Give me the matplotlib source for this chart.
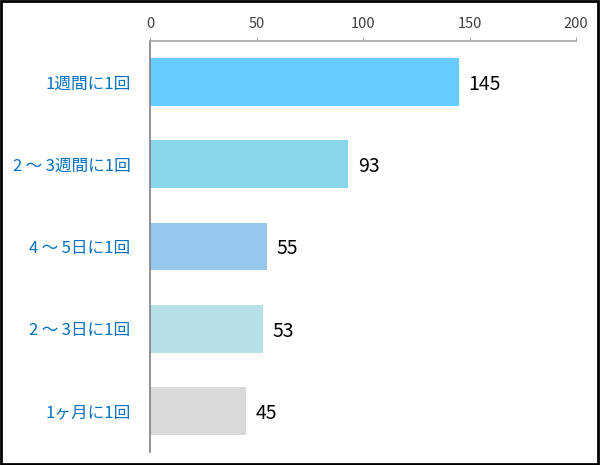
import matplotlib.pyplot as plt
from matplotlib.patches import Rectangle

plt.rcParams['font.family'] = ['Noto Sans CJK JP', 'DejaVu Sans']

# データ
categories = ['1週間に1回', '2\u2009～\u20093週間に1回', '4\u2009～\u20095日に1回',
              '2\u2009～\u20093日に1回', '1ヶ月に1回']
values = [145, 93, 55, 53, 45]
bar_colors = ['#66CCFF', '#89D6EA', '#95C8EC', '#B7DFE8', '#D9D9D9']
x_ticks = [0, 50, 100, 150, 200]

fig = plt.figure(figsize=(6, 4.65), dpi=100)
ax = fig.add_axes([0.25, 0.028, 0.71, 0.884])

ypos = list(range(len(categories)))
ax.barh(ypos, values, height=0.58, color=bar_colors)

for y, v in zip(ypos, values):
    ax.text(v + 4.5, y + 0.03, str(v), va='center', ha='left', fontsize=14, color='black')

ax.set_xlim(0, 200)
ax.set_ylim(len(categories) - 0.5, -0.5)
ax.set_xticks(x_ticks)
ax.xaxis.tick_top()
ax.tick_params(axis='x', direction='out', length=3, color='#A6A6A6', labelsize=10.5,
               labelcolor='#404040', pad=4)
ax.set_yticks(ypos)
ax.set_yticklabels(categories, fontsize=12, color='#0070C0')
ax.tick_params(axis='y', length=0, pad=14)

for s in ['right', 'bottom']:
    ax.spines[s].set_visible(False)
ax.spines['top'].set_color('#A6A6A6')
ax.spines['left'].set_color('#808080')
ax.spines['top'].set_linewidth(1.2)
ax.spines['left'].set_linewidth(1.2)

# 外枠
fig.patches.append(Rectangle((0.002, 0.003), 0.995, 0.994, transform=fig.transFigure,
                             fill=False, edgecolor='black', linewidth=2))

fig.savefig('out.png', dpi=100)
